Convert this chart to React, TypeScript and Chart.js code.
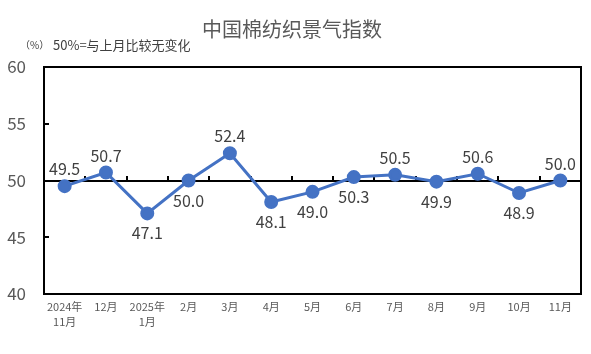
import React, { useEffect, useRef } from "react";
import { Chart, registerables } from "chart.js";

Chart.register(...registerables);

const categories: (string | string[])[] = [
  ["2024年", "11月"], "12月", ["2025年", "1月"], "2月", "3月", "4月", "5月",
  "6月", "7月", "8月", "9月", "10月", "11月",
];
const values = [49.5, 50.7, 47.1, 50.0, 52.4, 48.1, 49.0, 50.3, 50.5, 49.9, 50.6, 48.9, 50.0];
const labelPlacement = ["above", "above", "below", "below", "above", "below", "below", "below", "above", "below", "above", "below", "above"];
const yTicks = [40, 45, 50, 55, 60];
const titleText = "中国棉纺织景气指数";
const unitText = "（%）";
const noteText = "50%=与上月比较无变化";
const referenceValue = 50;

const FONT = "'Noto Sans CJK SC', 'Noto Sans', sans-serif";

const decorPlugin = {
  id: "decor",
  beforeDatasetsDraw(chart: any) {
    const { ctx, chartArea: a, scales } = chart;
    const y = scales.y;
    const x = scales.x;
    ctx.save();
    ctx.strokeStyle = "#000";
    ctx.lineWidth = 2;
    const y50 = Math.round(y.getPixelForValue(referenceValue));
    ctx.beginPath();
    ctx.moveTo(a.left, y50);
    ctx.lineTo(a.right, y50);
    ctx.stroke();
    ctx.beginPath();
    yTicks.forEach((v) => {
      if (v === 40 || v === 60 || v === referenceValue) return;
      const py = Math.round(y.getPixelForValue(v));
      ctx.moveTo(a.left, py);
      ctx.lineTo(a.left + 5, py);
    });
    const step = x.getPixelForValue(1) - x.getPixelForValue(0);
    for (let i = 1; i < categories.length; i++) {
      const px = Math.round(x.getPixelForValue(i) - step / 2);
      ctx.moveTo(px, y50);
      ctx.lineTo(px, y50 - 5);
    }
    ctx.stroke();
    ctx.lineWidth = 2;
    ctx.strokeRect(a.left, a.top, a.right - a.left, a.bottom - a.top);
    ctx.restore();
  },
  afterDraw(chart: any) {
    const { ctx } = chart;
    ctx.save();
    ctx.fillStyle = "#595959";
    ctx.textBaseline = "middle";
    ctx.textAlign = "center";
    ctx.font = `20px ${FONT}`;
    ctx.fillText(titleText, 292, 29);
    ctx.textAlign = "left";
    ctx.fillStyle = "#404040";
    ctx.font = `10px ${FONT}`;
    ctx.fillText(unitText, 20, 45);
    ctx.font = `13px ${FONT}`;
    ctx.fillText(noteText, 53, 45);
    const meta = chart.getDatasetMeta(0);
    ctx.font = `16px ${FONT}`;
    ctx.fillStyle = "#404040";
    ctx.textAlign = "center";
    meta.data.forEach((pt: any, i: number) => {
      const above = labelPlacement[i] === "above";
      const off = above ? -17 : 20;
      ctx.fillText(values[i].toFixed(1), pt.x, pt.y + off);
    });
    ctx.restore();
  },
};

export default function App() {
  const ref = useRef<HTMLCanvasElement>(null);
  useEffect(() => {
    document.body.style.margin = "0";
    const chart = new Chart(ref.current!, {
      type: "line",
      data: {
        labels: categories,
        datasets: [
          {
            data: values,
            borderColor: "#4472C4",
            backgroundColor: "#4472C4",
            borderWidth: 3,
            pointRadius: 5.5,
            pointHoverRadius: 5.5,
            pointBackgroundColor: "#4472C4",
            pointBorderColor: "#4472C4",
            tension: 0,
          },
        ],
      },
      options: {
        animation: false,
        responsive: false,
        layout: { padding: { top: 67, right: 10, left: 0, bottom: 0 } },
        plugins: { legend: { display: false }, tooltip: { enabled: false }, title: { display: false } },
        scales: {
          x: {
            offset: true,
            grid: { display: false, drawTicks: false },
            border: { display: false },
            ticks: {
              color: "#595959",
              font: { family: FONT, size: 11, lineHeight: 1.3 },
              padding: 6,
              maxRotation: 0,
              autoSkip: false,
            },
            afterFit: (s: any) => { s.height = 60; },
          },
          y: {
            min: 40,
            max: 60,
            grid: { display: false, drawTicks: false },
            border: { display: false },
            ticks: {
              stepSize: 5,
              color: "#595959",
              font: { family: FONT, size: 17 },
              padding: 18,
            },
            afterFit: (s: any) => { s.width = 44; },
          },
        },
      },
      plugins: [decorPlugin],
    });
    return () => chart.destroy();
  }, []);
  return (
    <div style={{ width: 591, height: 354 }}>
      <canvas ref={ref} width={591} height={354} style={{ width: 591, height: 354 }} />
    </div>
  );
}
